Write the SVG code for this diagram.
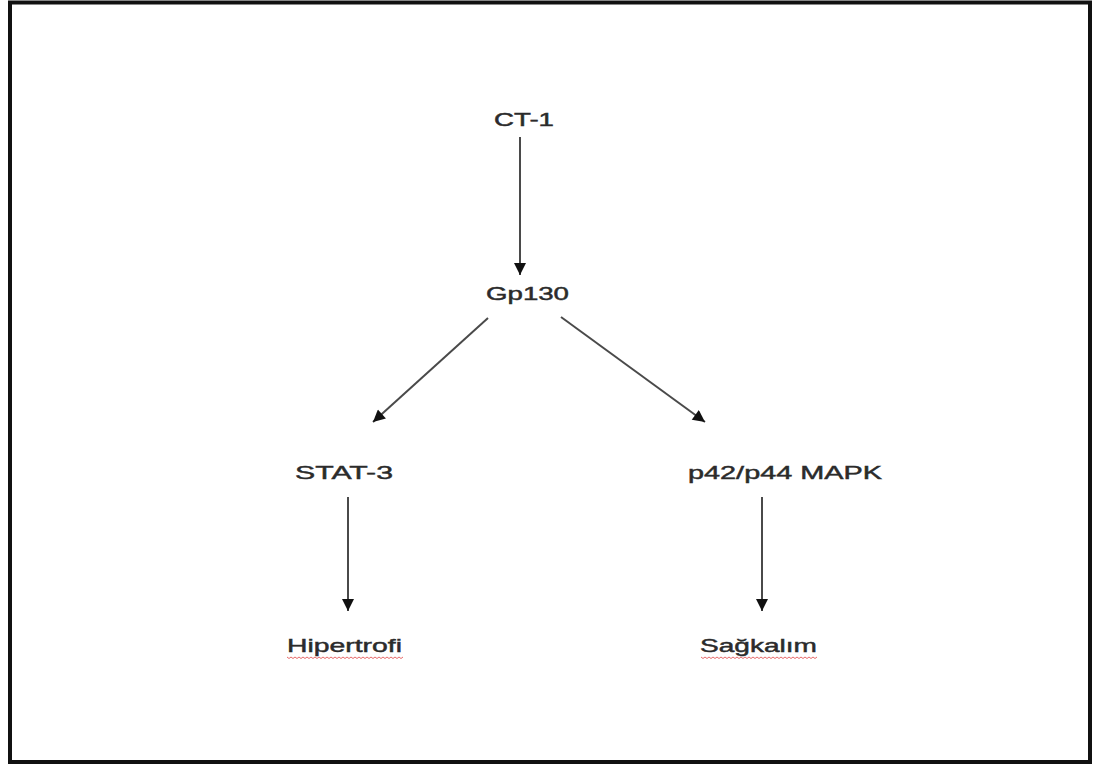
<svg xmlns="http://www.w3.org/2000/svg" width="1093" height="765" viewBox="0 0 1093 765">
<style>
  .lbl { font-family: "Liberation Sans", Arial, sans-serif; font-size: 18.5px; fill: #2b2b2b; stroke: #2b2b2b; stroke-width: 0.45; }
  .edge { stroke: #4a4a4a; stroke-width: 2; fill: none; }
  .squig { stroke: #e86a6a; stroke-width: 1; fill: none; }
</style>
<defs>
  <marker id="arr" viewBox="0 0 10 10" refX="10" refY="5" markerWidth="13" markerHeight="12" markerUnits="userSpaceOnUse" orient="auto">
    <path d="M0,0 L10,5 L0,10 Z" fill="#111"/>
  </marker>
  <path id="wave" d="M0,0 l2,1.5 l2,-1.5 l2,1.5 l2,-1.5 l2,1.5 l2,-1.5 l2,1.5 l2,-1.5 l2,1.5 l2,-1.5 l2,1.5 l2,-1.5 l2,1.5 l2,-1.5 l2,1.5 l2,-1.5 l2,1.5 l2,-1.5 l2,1.5 l2,-1.5 l2,1.5 l2,-1.5 l2,1.5 l2,-1.5 l2,1.5 l2,-1.5 l2,1.5 l2,-1.5 l2,1.5 l2,-1.5 l2,1.5 l2,-1.5 l2,1.5 l2,-1.5 l2,1.5 l2,-1.5 l2,1.5 l2,-1.5 l2,1.5 l2,-1.5 l2,1.5 l2,-1.5 l2,1.5 l2,-1.5 l2,1.5 l2,-1.5 l2,1.5 l2,-1.5 l2,1.5 l2,-1.5 l2,1.5 l2,-1.5 l2,1.5 l2,-1.5 l2,1.5 l2,-1.5 l2,1.5 l2,-1.5"/>
</defs>
<rect x="0" y="0" width="1093" height="765" fill="#fff"/>
<rect x="10" y="2.5" width="1080" height="759.5" fill="none" stroke="#111" stroke-width="4"/>
<g id="connectors">
  <line class="edge" x1="520" y1="137" x2="520" y2="275" marker-end="url(#arr)"/>
  <line class="edge" x1="488" y1="318" x2="373" y2="422" marker-end="url(#arr)"/>
  <line class="edge" x1="561" y1="317" x2="705" y2="422" marker-end="url(#arr)"/>
  <line class="edge" x1="348" y1="497" x2="348" y2="611" marker-end="url(#arr)"/>
  <line class="edge" x1="762" y1="497" x2="762" y2="611" marker-end="url(#arr)"/>
</g>
<g id="node-ct1"><text class="lbl" x="494" y="126" textLength="60" lengthAdjust="spacingAndGlyphs">CT-1</text></g>
<g id="node-gp130"><text class="lbl" x="486" y="300" textLength="83" lengthAdjust="spacingAndGlyphs">Gp130</text></g>
<g id="node-stat3"><text class="lbl" x="295" y="479" textLength="98" lengthAdjust="spacingAndGlyphs">STAT-3</text></g>
<g id="node-mapk"><text class="lbl" x="688" y="479" textLength="194" lengthAdjust="spacingAndGlyphs">p42/p44 MAPK</text></g>
<g id="node-hipertrofi">
  <text class="lbl" x="287" y="652" textLength="115" lengthAdjust="spacingAndGlyphs">Hipertrofi</text>
  <use href="#wave" class="squig" x="287" y="657"/>
</g>
<g id="node-sagkalim">
  <text class="lbl" x="700" y="652" textLength="117" lengthAdjust="spacingAndGlyphs">Sağkalım</text>
  <use href="#wave" class="squig" x="701" y="657"/>
</g>
</svg>
